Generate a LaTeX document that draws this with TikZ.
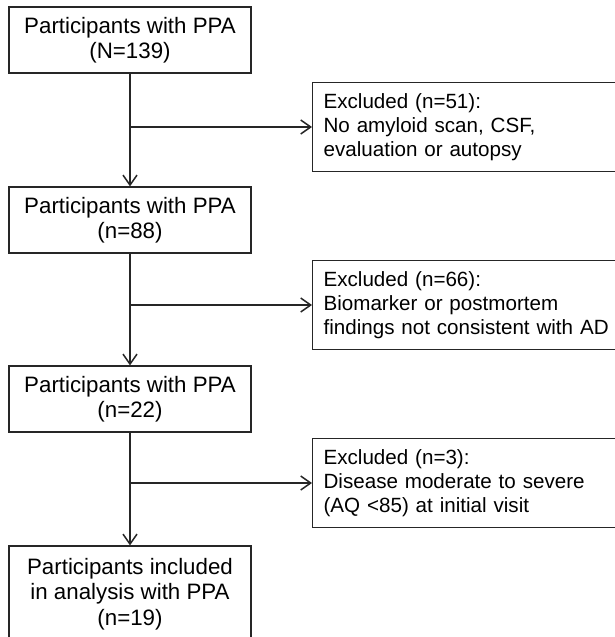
\documentclass[tikz,border=0pt]{standalone}
\usepackage{fontspec}
\setmainfont{Liberation Sans}
\usetikzlibrary{arrows.meta}
\begin{document}
\begin{tikzpicture}[x=1pt,y=-1pt,
  lbox/.style={draw=black!85, line width=1.2pt, minimum width=242pt, minimum height=66pt,
    align=center, inner sep=0pt, font=\fontsize{22.3}{25.5}\selectfont},
  rbox/.style={draw=black!85, line width=1.2pt, anchor=west, minimum height=89pt,
    text width=340pt, inner xsep=11pt, inner ysep=0pt, align=left,
    font=\fontsize{20.6}{24}\selectfont},
  conn/.style={draw=black!85, line width=1.5pt,
    -{Straight Barb[length=10pt,width=14pt,line width=1.5pt]}}]
\useasboundingbox (0,0) rectangle (615,637);
\clip (0,0) rectangle (615,637);
\fill[white] (0,0) rectangle (615,637);
\node[lbox] (b1) at (130,40) {Participants with PPA\\(N=139)};
\node[lbox] (b2) at (130,220) {Participants with PPA\\(n=88)};
\node[lbox] (b3) at (130,399) {Participants with PPA\\(n=22)};
\node[lbox, minimum height=96pt] (b4) at (130,594) {Participants included\\in analysis with PPA\\(n=19)};
\node[rbox] (r1) at (312,127) {Excluded (n=51):\\No amyloid scan, CSF,\\evaluation or autopsy};
\node[rbox] (r2) at (312,305) {Excluded (n=66):\\Biomarker or postmortem\\findings not consistent with AD};
\node[rbox] (r3) at (312,483) {Excluded (n=3):\\Disease moderate to severe\\(AQ <85) at initial visit};
\draw[conn] (b1.south) -- (b2.north);
\draw[conn] (b2.south) -- (b3.north);
\draw[conn] (b3.south) -- (b4.north);
\coordinate (j1) at (b1.south |- r1.west);
\coordinate (j2) at (b2.south |- r2.west);
\coordinate (j3) at (b3.south |- r3.west);
\draw[conn] (j1) -- (r1.west);
\draw[conn] (j2) -- (r2.west);
\draw[conn] (j3) -- (r3.west);
\end{tikzpicture}
\end{document}
